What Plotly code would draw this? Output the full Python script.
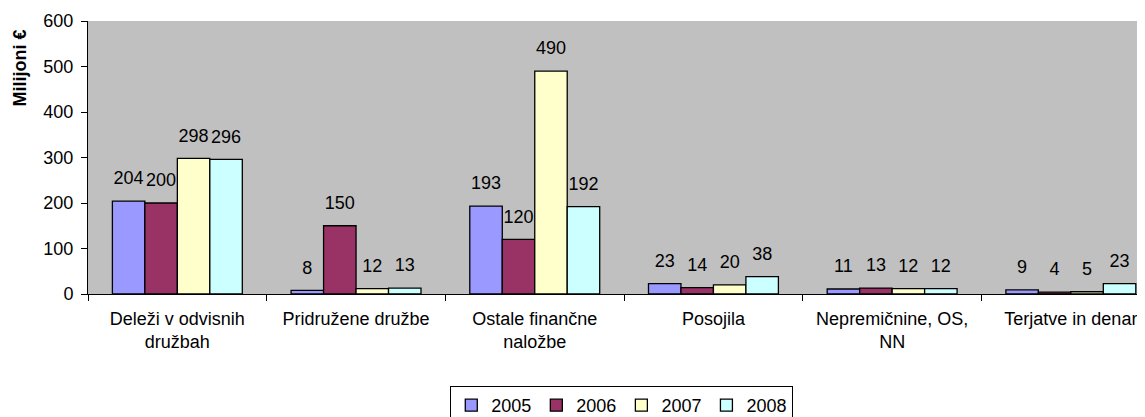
import plotly.graph_objects as go

categories = ["Deleži v odvisnih<br>družbah", "Pridružene družbe", "Ostale finančne<br>naložbe",
              "Posojila", "Nepremičnine, OS,<br>NN", "Terjatve in denar"]
years = ["2005", "2006", "2007", "2008"]
v2005 = [204, 8, 193, 23, 11, 9]
v2006 = [200, 150, 120, 14, 13, 4]
v2007 = [298, 12, 490, 20, 12, 5]
v2008 = [296, 13, 192, 38, 12, 23]
series = [v2005, v2006, v2007, v2008]
colors = ["#9999FF", "#993366", "#FFFFCC", "#CCFFFF"]
y_ticks = [0, 100, 200, 300, 400, 500, 600]
y_title = "Milijoni €"

FONT = "Liberation Sans, Arial, sans-serif"
FS = 18

fig = go.Figure()
for yr, vals, col in zip(years, series, colors):
    fig.add_trace(go.Bar(
        name=yr, x=categories, y=vals,
        marker=dict(color=col, line=dict(color="black", width=1.3)),
        offsetgroup=yr, alignmentgroup="a",
    ))
for yr, vals in zip(years, series):
    fig.add_trace(go.Scatter(
        x=categories, y=vals, mode="markers+text",
        text=[str(v) for v in vals], textposition="top center",
        textfont=dict(family=FONT, size=FS, color="black"),
        marker=dict(size=18, opacity=0),
        offsetgroup=yr, alignmentgroup="a",
        showlegend=False, hoverinfo="skip", cliponaxis=False,
    ))

# page body has an 8px default margin: the figure is sized to fill the rest of the window
fig.update_layout(
    width=1137, height=409,
    margin=dict(l=80, r=0, t=13, b=123, autoexpand=False),
    paper_bgcolor="white", plot_bgcolor="#C0C0C0",
    barmode="group", bargap=0.273, bargroupgap=0,
    scattermode="group", scattergap=0.273,
    font=dict(family=FONT, size=FS, color="black"),
    showlegend=True,
    legend=dict(orientation="h", x=0.505, xanchor="center", y=-0.337, yanchor="top",
                bordercolor="black", borderwidth=1, bgcolor="white",
                font=dict(family=FONT, size=FS, color="black"),
                itemwidth=30, traceorder="normal"),
    annotations=[dict(
        text="<b>" + y_title + "</b>", textangle=-90,
        xref="paper", yref="paper", x=-0.0648, y=0.828,
        xanchor="center", yanchor="middle", showarrow=False,
        font=dict(family=FONT, size=FS, color="black"),
    )],
)
fig.update_xaxes(
    type="category", range=[-0.5, 5.415], automargin=False,
    showline=True, linecolor="black", linewidth=1,
    ticks="outside", ticklen=6, tickcolor="black", tickson="boundaries",
    showgrid=False, zeroline=False, ticklabelstandoff=8,
)
fig.update_yaxes(
    range=[0, 600], tickvals=y_ticks, automargin=False,
    showline=True, linecolor="black", linewidth=1,
    ticks="outside", ticklen=6, tickcolor="black",
    showgrid=False, zeroline=False, ticklabelstandoff=4,
)

fig.write_html("out.html")
